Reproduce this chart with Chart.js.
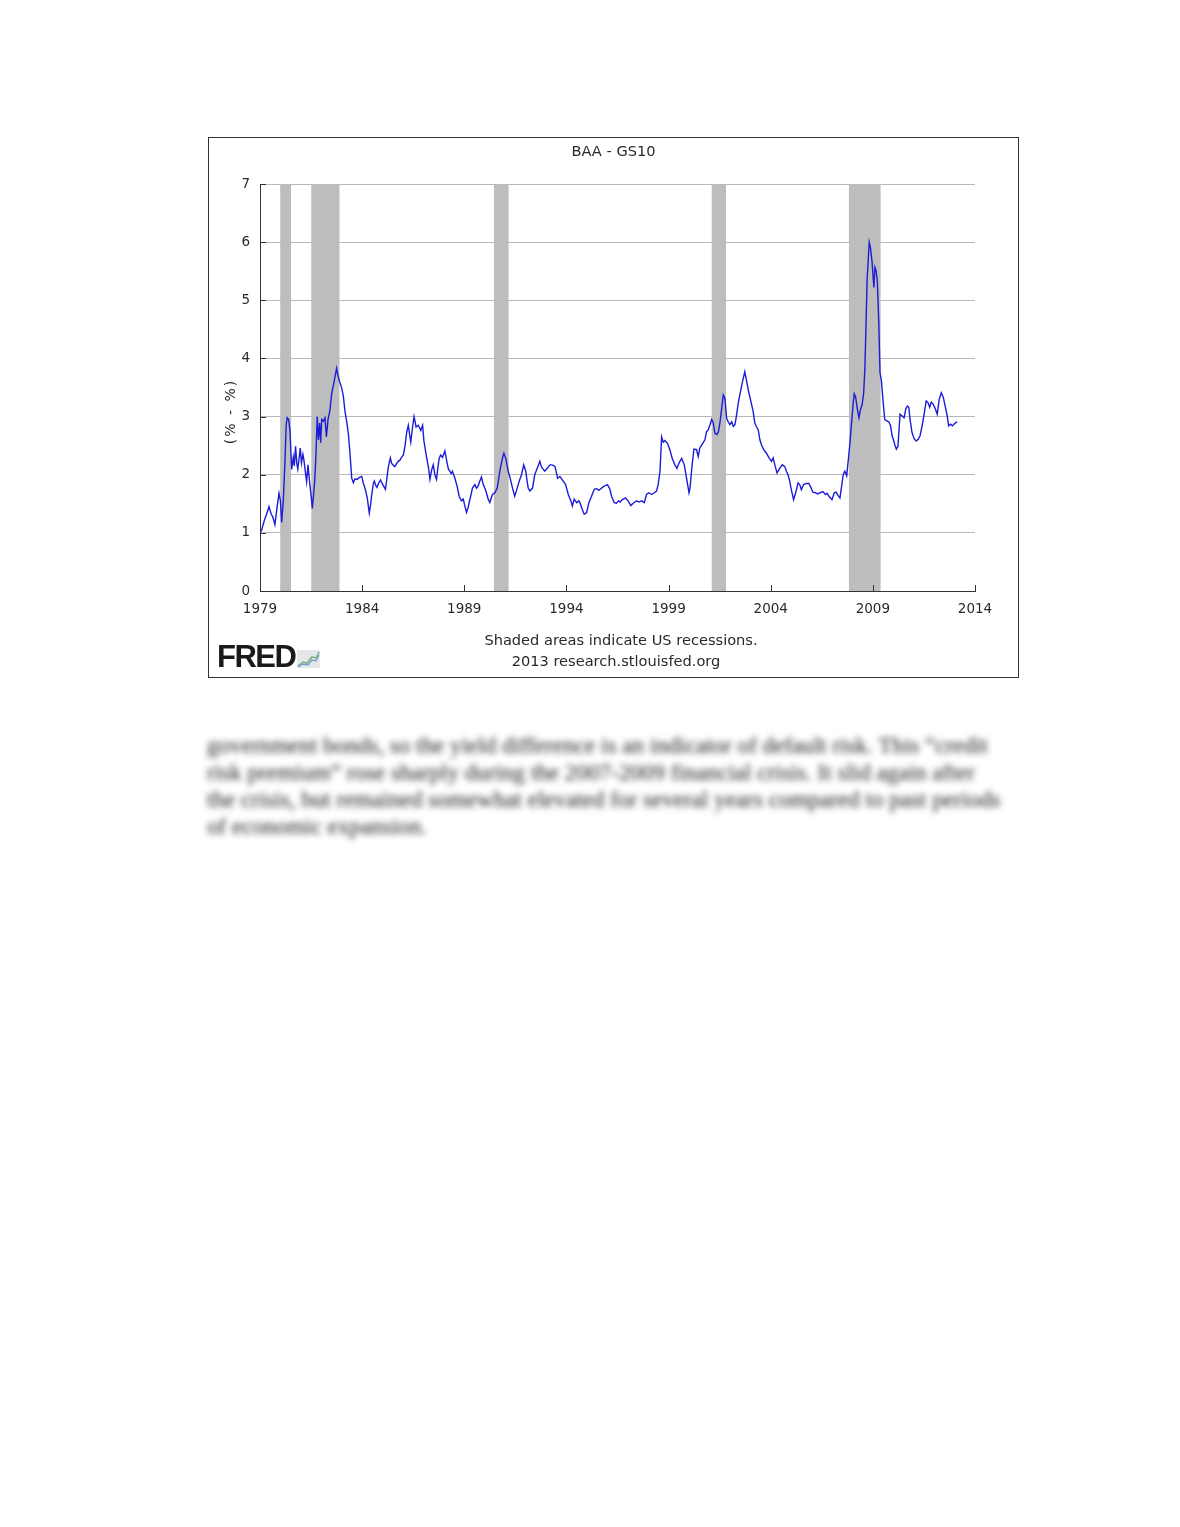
<!DOCTYPE html>
<html><head><meta charset="utf-8">
<script src="https://cdn.jsdelivr.net/npm/chart.js@4.4.0/dist/chart.umd.min.js"></script>
<style>
html,body{margin:0;padding:0;background:#fff;width:1180px;height:1527px;overflow:hidden}
#frame{position:absolute;left:208px;top:137px;width:809px;height:539px;border:1px solid #333;background:#fff}
#c{position:absolute;left:0;top:0}
.note{position:absolute;font-family:"DejaVu Sans";font-size:14.6px;color:#2a2a2a;white-space:nowrap;transform:translate(-50%,-50%)}
#fred{position:absolute;left:8px;top:502px;font-family:"Liberation Sans",Arial,sans-serif;font-weight:bold;font-size:31px;letter-spacing:-1.5px;color:#1a1a1a;line-height:34px}
#icon{position:absolute;left:88px;top:512px}
#para{position:absolute;left:207px;top:732px;width:820px;font-family:"Liberation Serif",serif;font-size:23.1px;line-height:27px;color:#1a1a1a;filter:blur(3px)}
#para div{white-space:nowrap}
</style></head>
<body>
<div id="frame">
<canvas id="c" width="809" height="539"></canvas>
<div class="note" style="left:412px;top:501px">Shaded areas indicate US recessions.</div>
<div class="note" style="left:407px;top:522px">2013 research.stlouisfed.org</div>
<div id="fred">FRED</div>
<svg id="icon" width="23" height="18" viewBox="0 0 23 18">
<rect x="0" y="0" width="23" height="18" fill="#e4e8ec"/>
<polyline points="1,16 6,12 10,13 15,7 19,8 22,2" fill="none" stroke="#7fb27f" stroke-width="1.6"/>
<polyline points="1,17 6,14 11,15 15,10 19,11 22,5" fill="none" stroke="#7a9ccc" stroke-width="1.3"/>
</svg>
</div>
<div id="para">
<div>government bonds, so the yield difference is an indicator of default risk. This “credit</div>
<div>risk premium” rose sharply during the 2007-2009 financial crisis. It slid again after</div>
<div>the crisis, but remained somewhat elevated for several years compared to past periods</div>
<div>of economic expansion.</div>
</div>
<script>
// ---- data ----
const dates = [
1979.00,1979.08,1979.20,1979.30,1979.44,1979.55,1979.62,1979.73,1979.82,1979.93,
1980.00,1980.06,1980.14,1980.22,1980.28,1980.33,1980.40,1980.47,1980.55,1980.63,1980.68,1980.74,1980.80,1980.85,1980.92,1980.97,
1981.03,1981.10,1981.15,1981.22,1981.28,1981.35,1981.42,1981.50,1981.56,1981.62,1981.68,1981.74,1981.80,1981.86,1981.92,1981.97,
1982.02,1982.10,1982.18,1982.25,1982.33,1982.42,1982.51,1982.60,1982.68,1982.75,1982.82,1982.90,
1983.00,1983.08,1983.16,1983.25,1983.33,1983.42,1983.49,1983.57,1983.65,1983.75,1983.85,1983.98,
1984.06,1984.14,1984.25,1984.35,1984.42,1984.47,1984.55,1984.60,1984.66,1984.73,1984.80,1984.90,1984.98,
1985.06,1985.14,1985.20,1985.27,1985.38,1985.44,1985.50,1985.60,1985.70,1985.77,1985.85,1985.93,
1986.02,1986.10,1986.18,1986.26,1986.32,1986.38,1986.47,1986.54,1986.60,1986.64,1986.75,1986.87,1986.96,
1987.02,1987.12,1987.18,1987.24,1987.32,1987.40,1987.48,1987.56,1987.64,1987.70,1987.77,1987.84,1987.94,
1988.05,1988.16,1988.22,1988.29,1988.36,1988.42,1988.54,1988.65,1988.75,1988.86,1988.95,
1989.03,1989.11,1989.19,1989.31,1989.40,1989.52,1989.60,1989.67,1989.73,1989.84,1989.93,
1990.06,1990.17,1990.25,1990.32,1990.38,1990.50,1990.61,1990.67,1990.74,1990.82,1990.88,1990.94,
1991.03,1991.15,1991.26,1991.36,1991.47,1991.53,1991.59,1991.69,1991.80,1991.91,
1992.01,1992.07,1992.13,1992.21,1992.34,1992.45,1992.57,1992.70,1992.76,1992.83,1992.94,
1993.06,1993.19,1993.27,1993.36,1993.44,1993.57,1993.68,1993.76,1993.84,1993.96,
1994.09,1994.16,1994.22,1994.29,1994.38,1994.50,1994.61,1994.68,1994.74,1994.80,1994.87,1994.99,
1995.10,1995.23,1995.36,1995.48,1995.59,1995.72,1995.80,1995.88,
1996.01,1996.13,1996.21,1996.28,1996.34,1996.45,1996.55,1996.62,1996.70,1996.78,1996.89,
1997.02,1997.15,1997.27,1997.35,1997.43,1997.55,1997.68,1997.81,1997.92,
1998.03,1998.17,1998.30,1998.41,1998.49,1998.58,1998.66,1998.74,1998.82,1998.95,
1999.07,1999.18,1999.31,1999.41,1999.51,1999.64,1999.77,1999.88,
2000.00,2000.05,2000.13,2000.24,2000.37,2000.45,2000.53,2000.67,2000.78,2000.86,2000.94,
2001.03,2001.11,2001.19,2001.27,2001.36,2001.44,2001.52,2001.60,2001.68,2001.76,2001.84,2001.92,
2002.00,2002.09,2002.17,2002.25,2002.33,2002.41,2002.52,2002.62,2002.73,2002.81,2002.90,
2003.01,2003.14,2003.22,2003.30,2003.39,2003.47,2003.55,2003.66,2003.79,2003.92,
2004.04,2004.12,2004.20,2004.31,2004.44,2004.57,2004.69,2004.77,2004.85,2004.93,
2005.01,2005.12,2005.22,2005.34,2005.42,2005.50,2005.61,2005.74,2005.87,2005.98,
2006.06,2006.19,2006.30,2006.42,2006.55,2006.68,2006.76,2006.87,
2007.00,2007.11,2007.20,2007.30,2007.39,2007.47,2007.55,2007.63,2007.72,2007.80,2007.88,2007.96,
2008.04,2008.09,2008.16,2008.24,2008.32,2008.40,2008.48,2008.55,2008.61,2008.66,2008.72,2008.77,2008.82,2008.88,2008.96,
2009.05,2009.10,2009.16,2009.22,2009.29,2009.35,2009.42,2009.50,2009.58,2009.66,2009.78,2009.87,2009.94,
2010.00,2010.07,2010.15,2010.23,2010.33,2010.43,2010.53,2010.61,2010.69,2010.76,2010.82,2010.92,
2011.02,2011.12,2011.22,2011.31,2011.41,2011.51,2011.61,2011.70,2011.78,2011.86,2011.96,
2012.06,2012.15,2012.25,2012.35,2012.45,2012.54,2012.64,2012.71,2012.80,2012.90,2012.97,
2013.07,2013.13
];
const spread = [
1.00,1.05,1.20,1.30,1.45,1.32,1.28,1.14,1.40,1.68,
1.55,1.18,1.55,2.20,2.85,2.98,2.95,2.75,2.09,2.30,2.15,2.49,2.20,2.10,2.30,2.46,
2.20,2.35,2.25,2.05,1.88,2.17,1.90,1.65,1.42,1.65,1.90,2.35,3.00,2.60,2.89,2.55,
2.95,2.92,2.98,2.65,2.95,3.10,3.40,3.55,3.70,3.83,3.70,3.60,
3.49,3.35,3.09,2.90,2.69,2.30,1.94,1.86,1.93,1.92,1.95,1.97,
1.85,1.77,1.60,1.34,1.50,1.66,1.85,1.89,1.82,1.78,1.85,1.91,1.85,
1.80,1.75,1.90,2.11,2.29,2.20,2.17,2.14,2.20,2.23,2.25,2.30,
2.34,2.50,2.73,2.85,2.70,2.56,2.82,3.00,2.90,2.82,2.85,2.76,2.85,
2.59,2.37,2.25,2.14,1.92,2.08,2.17,2.00,1.92,2.10,2.28,2.34,2.30,
2.41,2.20,2.10,2.06,2.02,2.06,1.94,1.80,1.63,1.55,1.58,
1.46,1.35,1.44,1.63,1.77,1.83,1.77,1.80,1.86,1.96,1.83,
1.72,1.58,1.52,1.60,1.66,1.69,1.77,1.90,2.06,2.20,2.30,2.37,
2.28,2.06,1.92,1.77,1.63,1.70,1.77,1.89,2.00,2.17,
2.06,1.90,1.77,1.72,1.77,2.00,2.11,2.23,2.15,2.11,2.06,
2.11,2.17,2.17,2.16,2.14,1.94,1.97,1.93,1.89,1.83,
1.66,1.60,1.55,1.46,1.58,1.52,1.55,1.50,1.44,1.38,1.32,1.35,
1.52,1.63,1.75,1.76,1.73,1.77,1.79,1.81,
1.83,1.75,1.63,1.57,1.52,1.51,1.55,1.53,1.56,1.58,1.60,
1.55,1.47,1.51,1.53,1.55,1.53,1.55,1.52,1.66,
1.69,1.66,1.69,1.72,1.83,2.06,2.65,2.56,2.59,2.54,
2.42,2.28,2.17,2.11,2.20,2.28,2.17,1.94,
1.69,1.77,2.09,2.44,2.43,2.31,2.46,2.54,2.60,2.74,2.77,
2.86,2.95,2.89,2.71,2.69,2.74,2.91,3.14,3.37,3.31,2.97,2.91,
2.86,2.91,2.83,2.86,3.03,3.23,3.43,3.60,3.77,3.63,3.46,
3.29,3.09,2.89,2.83,2.77,2.60,2.51,2.43,2.37,2.29,
2.23,2.29,2.17,2.03,2.11,2.17,2.14,2.06,2.00,1.89,
1.74,1.57,1.69,1.86,1.83,1.74,1.83,1.85,1.85,1.77,
1.70,1.69,1.67,1.69,1.71,1.66,1.68,1.62,
1.57,1.69,1.70,1.64,1.60,1.80,2.00,2.06,1.98,2.26,2.55,2.90,
3.24,3.39,3.33,3.13,2.98,3.13,3.21,3.41,3.82,4.51,5.37,5.66,6.00,5.91,5.66,
5.22,5.57,5.51,5.31,4.62,3.76,3.61,3.27,2.95,2.93,2.91,2.84,2.67,
2.61,2.52,2.44,2.49,3.04,3.01,2.98,3.13,3.18,3.16,2.95,2.72,
2.62,2.58,2.61,2.67,2.84,3.04,3.27,3.24,3.16,3.25,3.21,
3.13,3.04,3.30,3.41,3.33,3.18,3.01,2.84,2.87,2.84,2.87,
2.90,2.91
];
const xTicks = [1979,1984,1989,1994,1999,2004,2009,2014];
const yTicks = [0,1,2,3,4,5,6,7];
const recessionStart = [1979.99,1981.51,1990.45,2001.11,2007.83];
const recessionEnd   = [1980.52,1982.89,1991.17,2001.81,2009.38];
const chartTitle = 'BAA - GS10';
const yTitle = '(% - %)';

const points = dates.map((d,i)=>({x:d,y:spread[i]}));
const FONT = "DejaVu Sans";

const decor = {
  id:'decor',
  beforeDatasetsDraw(chart){
    const {ctx, chartArea:a, scales:{x}} = chart;
    ctx.save();
    ctx.fillStyle = '#bdbdbd';
    recessionStart.forEach((s,i)=>{
      const x0 = x.getPixelForValue(s), x1 = x.getPixelForValue(recessionEnd[i]);
      ctx.fillRect(x0, a.top, x1-x0, a.bottom-a.top);
    });
    ctx.restore();
  },
  afterDatasetsDraw(chart){
    const {ctx, chartArea:a, scales:{x,y}, width} = chart;
    ctx.save();
    ctx.strokeStyle = '#333';
    ctx.lineWidth = 1;
    ctx.beginPath();
    ctx.moveTo(a.left+0.5, a.top); ctx.lineTo(a.left+0.5, a.bottom+0.5);
    ctx.lineTo(a.right, a.bottom+0.5);
    yTicks.forEach(v=>{ const py = Math.round(y.getPixelForValue(v))+0.5; ctx.moveTo(a.left, py); ctx.lineTo(a.left+6, py); });
    xTicks.forEach(v=>{ const px = Math.round(x.getPixelForValue(v))+0.5; ctx.moveTo(px, a.bottom); ctx.lineTo(px, a.bottom-6); });
    ctx.stroke();
    ctx.fillStyle = '#2a2a2a';
    ctx.textAlign = 'center';
    ctx.textBaseline = 'middle';
    ctx.font = '14.6px "' + FONT + '"';
    ctx.fillText(chartTitle, width/2, 14);
    ctx.font = '14px "' + FONT + '"';
    try { ctx.letterSpacing = '2px'; } catch(e) {}
    ctx.translate(22, (a.top+a.bottom)/2 + 24);
    ctx.rotate(-Math.PI/2);
    ctx.fillText(yTitle, 0, 0);
    ctx.restore();
  }
};

new Chart(document.getElementById('c'), {
  type:'line',
  data:{datasets:[{data:points,borderColor:'#1b1bd8',borderWidth:1.4,pointRadius:0,tension:0,fill:false}]},
  options:{
    responsive:false,animation:false,parsing:false,
    layout:{padding:{left:0,right:43,top:46,bottom:0}},
    plugins:{legend:{display:false},tooltip:{enabled:false},title:{display:false}},
    scales:{
      x:{type:'linear',min:1979,max:2014,
        afterBuildTicks(s){ s.ticks = xTicks.map(v=>({value:v})); },
        afterFit(s){ s.height = 86; },
        grid:{display:false,drawTicks:false},
        border:{display:true,color:'#333'},
        ticks:{autoSkip:false,maxRotation:0,padding:10,color:'#2a2a2a',font:{family:FONT,size:13.5},callback:v=>String(v)}
      },
      y:{type:'linear',min:0,max:7,
        afterBuildTicks(s){ s.ticks = yTicks.map(v=>({value:v})); },
        afterFit(s){ s.width = 51; },
        grid:{color:'#b8b8b8',lineWidth:1,drawTicks:false},
        border:{display:true,color:'#333'},
        ticks:{padding:10,color:'#2a2a2a',font:{family:FONT,size:13.5},callback:v=>String(v)}
      }
    }
  },
  plugins:[decor]
});
</script>
</body></html>
